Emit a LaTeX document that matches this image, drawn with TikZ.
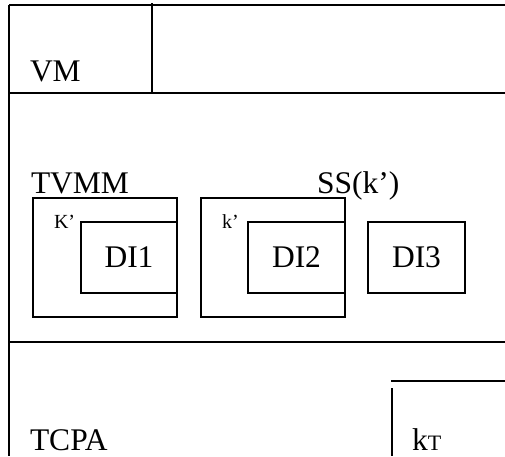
\documentclass[tikz,border=0pt]{standalone}
\usepackage{fontspec}
\setmainfont{Liberation Serif}
\usetikzlibrary{positioning}

\begin{document}
\begin{tikzpicture}[x=1pt,y=-1pt,line width=1.3pt,
  every node/.style={inner sep=0pt,outer sep=0pt},
  big/.style={font=\fontsize{31.5}{33}\selectfont,anchor=base west},
  small/.style={font=\fontsize{20}{22}\selectfont,anchor=base west},
  dom/.style={font=\fontsize{31.5}{33}\selectfont},
  frame/.style={draw,line width=1.3pt}]
\useasboundingbox (0,0) rectangle (505,456);
% layer lines
\draw (9,5) -- (505,5);
\draw (9,5) -- (9,456);
\draw (152,3) -- (152,93);
\draw (8,93) -- (505,93);
\draw (8,342) -- (505,342);
\draw (391,381) -- (505,381);
\draw (392,388) -- (392,456);
% layer names
\node[big] (vm) at (30,81) {VM};
\node[big] (tvmm) at (31,193) {TVMM};
\node[big] (ss) at (317,193) {SS(k’)};
\node[big] (tcpa) at (30,450) {TCPA};
\node[big] (kt) at (412,450) {k{\fontsize{22}{22}\selectfont T}};
% domains
\draw[frame] (33,198) rectangle (177,317);
\draw[frame] (81,222) rectangle (177,293);
\draw[frame] (201,198) rectangle (345,317);
\draw[frame] (248,222) rectangle (345,293);
\draw[frame] (368,222) rectangle (465,293);
\node[small] (k1) at (54,228) {K’};
\node[small] (k2) at (222,228) {k’};
\node[dom] (di1) at (129,257.5) {DI1};
\node[dom] (di2) at (296.5,257.5) {DI2};
\node[dom] (di3) at (416.5,257.5) {DI3};
\end{tikzpicture}
\end{document}
